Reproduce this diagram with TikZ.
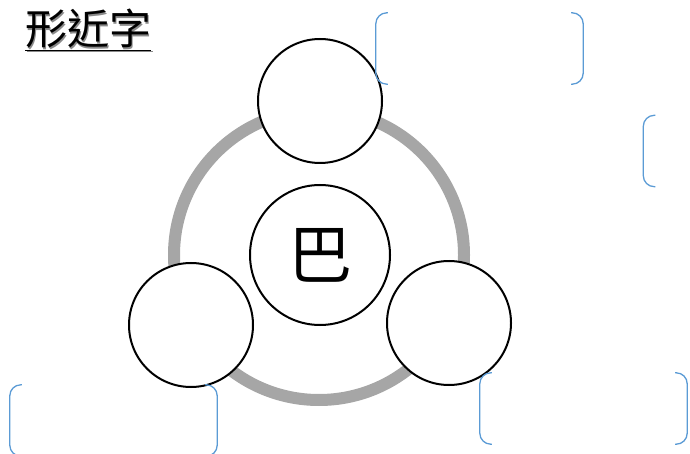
\documentclass[tikz,border=0pt]{standalone}
\usepackage{fontspec}
\usepackage{xcolor}
\usetikzlibrary{positioning}
\newfontfamily\cjk{Noto Sans CJK TC}
\definecolor{ringgray}{HTML}{A6A6A6}
\definecolor{bracketblue}{HTML}{5B9BD5}
\definecolor{shadowgray}{HTML}{8A8A8A}
\tikzset{
  ring/.style={draw=ringgray,line width=12pt},
  bubble/.style={circle,draw=black,line width=2pt,fill=white,minimum size=124pt,inner sep=0pt},
  core/.style={bubble,minimum size=140pt,font=\cjk\fontsize{64}{64}\selectfont},
  bracketbox/.style={rectangle,minimum width=207pt,minimum height=71pt,inner sep=0pt},
  bracket/.style={draw=bracketblue,line width=1.3pt,rounded corners=11pt},
  title/.style={anchor=west,inner sep=0pt,font=\cjk\fontsize{42}{42}\selectfont}
}
% both halves of a bracket pair round a named box
\newcommand{\bracketpair}[1]{%
  \draw[bracket] ([xshift=12pt]#1.north west)--(#1.north west)--(#1.south west)--([xshift=12pt]#1.south west);
  \draw[bracket] ([xshift=-12pt]#1.north east)--(#1.north east)--(#1.south east)--([xshift=-12pt]#1.south east);}
\begin{document}
\begin{tikzpicture}[x=1pt,y=-1pt]
  \useasboundingbox (0,0) rectangle (690,454);
  % title with its shadow
  \node[title,text=shadowgray] (titleshadow) at (26.5,31.5) {\underline{形近字}};
  \node[title] (titletext) at (25,30) {\underline{形近字}};
  % ring and circles
  \node[circle,minimum size=290pt,inner sep=0pt] (ringpath) at (319,255) {};
  \draw[ring] (ringpath.center) circle[radius=145pt];
  \node[core] (center) at (320,255) {巴};
  \node[bubble] (top) at (320,101) {};
  \node[bubble] (left) at (191,325) {};
  \node[bubble] (right) at (449,323) {};
  % answer brackets
  \node[bracketbox] (slottop) at (479.5,48.5) {};
  \node[bracketbox] (slotright) at (747,151) {};
  \node[bracketbox] (slotleft) at (113.5,420.5) {};
  \node[bracketbox] (slotlow) at (583.5,408.5) {};
  \bracketpair{slottop}
  \bracketpair{slotright}
  \bracketpair{slotleft}
  \bracketpair{slotlow}
\end{tikzpicture}
\end{document}
